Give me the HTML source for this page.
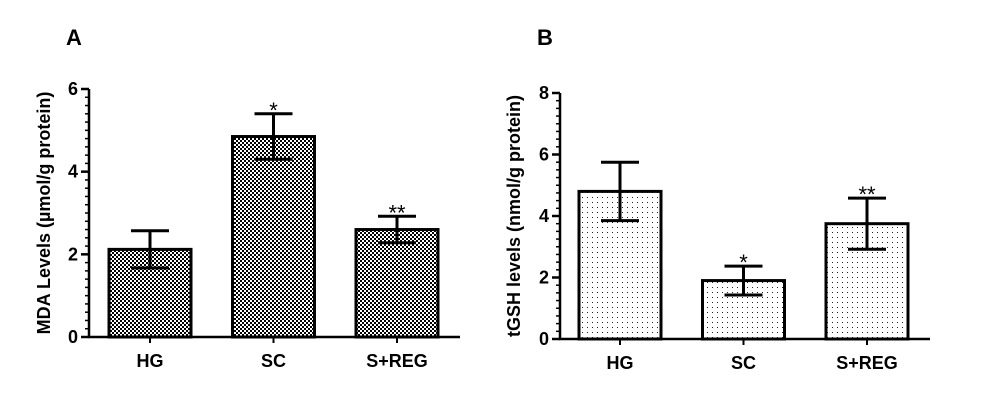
<!DOCTYPE html>
<html><head><meta charset="utf-8"><style>
body{margin:0;background:#fff}
svg{display:block;font-family:"Liberation Sans",Arial,sans-serif}
</style></head><body>
<svg id="c" width="1000" height="405" viewBox="0 0 1000 405">
<defs>
<pattern id="chk" width="4" height="4" patternUnits="userSpaceOnUse">
<rect width="4" height="4" fill="#fff"/><rect width="2" height="2" fill="#000"/><rect x="2" y="2" width="2" height="2" fill="#000"/>
</pattern>
<pattern id="dot" width="5" height="5" patternUnits="userSpaceOnUse">
<rect width="5" height="5" fill="#fff"/><rect x="2" y="2" width="1" height="1" fill="#222"/>
</pattern>
</defs>
<text x="66" y="45" font-size="22" font-weight="bold">A</text>
<text x="537" y="45" font-size="22" font-weight="bold">B</text>
</svg>
<script>
const categories=["HG","SC","S+REG"];
const mdaValues=[2.12,4.85,2.6];
const mdaErrors=[0.45,0.55,0.32];
const mdaStars=["","*","**"];
const mdaTicks=[0,2,4,6];
const gshValues=[4.8,1.9,3.75];
const gshErrors=[0.95,0.47,0.83];
const gshStars=["","*","**"];
const gshTicks=[0,2,4,6,8];
const NS="http://www.w3.org/2000/svg";
const svg=document.getElementById('c');
function mk(t,a,p){const e=document.createElementNS(NS,t);for(const k in a)e.setAttribute(k,a[k]);(p||svg).appendChild(e);return e;}
function panel(o){
  const g=mk('g',{});
  
  
  const y=v=>o.y0-(v-0)/o.max*(o.y0-o.yTop);
  const bx=i=>o.x0+o.firstBar+i*o.step;
  categories.forEach((c,i)=>{
    const x=bx(i),top=y(o.values[i]);
    const r=mk('rect',{x:x,y:top,width:o.bw,height:o.y0-top,fill:o.fill,stroke:'#000','stroke-width':3},g);
    
    
    const cx=x+o.bw/2,hi=y(o.values[i]+o.errors[i]),lo=y(o.values[i]-o.errors[i]);
    const eb=mk('path',{d:`M${cx},${hi}V${lo}M${cx-19},${hi}H${cx+19}M${cx-19},${lo}H${cx+19}`,stroke:'#000','stroke-width':3,fill:'none'},g);
    
    
    if(o.stars[i]){const s=mk('text',{x:cx,y:hi+4,'text-anchor':'middle','font-size':22},g);s.textContent=o.stars[i];
      
      }
    mk('line',{x1:cx,x2:cx,y1:o.y0,y2:o.y0+6,stroke:'#000','stroke-width':2},g);
    const t=mk('text',{x:cx,y:o.y0+30,'text-anchor':'middle','font-size':18,'font-weight':'bold'},g);t.textContent=c;
    
    
  });
  const ax=mk('path',{d:`M${o.x0},${o.yTop}V${o.y0}H${o.xEnd}`,stroke:'#000','stroke-width':2.5,fill:'none'},g);
  
  
  for(let v=0;v<=o.max+1e-9;v+=o.minor){mk('line',{x1:o.x0-4,x2:o.x0,y1:y(v),y2:y(v),stroke:'#000','stroke-width':1.5},g);}
  o.ticks.forEach(v=>{
    mk('line',{x1:o.x0-8,x2:o.x0,y1:y(v),y2:y(v),stroke:'#000','stroke-width':2.5},g);
    const t=mk('text',{x:o.x0-11,y:y(v)+6,'text-anchor':'end','font-size':18,'font-weight':'bold'},g);t.textContent=v;
    
    
  });
  const yt=mk('text',{x:0,y:0,transform:`translate(${o.titleX},${(o.y0+o.yTop)/2}) rotate(-90)`,'text-anchor':'middle','font-size':18,'font-weight':'bold'},g);
  yt.textContent=o.title;
  
  
}
panel({name:'panel-a-mda-chart',x0:89,y0:337,yTop:89,max:6,minor:0.2,xEnd:460,firstBar:20,step:123.5,bw:82,values:mdaValues,errors:mdaErrors,stars:mdaStars,ticks:mdaTicks,fill:'url(#chk)',title:'MDA Levels (µmol/g protein)',titleX:50});
panel({name:'panel-b-tgsh-chart',x0:560,y0:339,yTop:93,max:8,minor:0.25,xEnd:930,firstBar:19,step:123.5,bw:82,values:gshValues,errors:gshErrors,stars:gshStars,ticks:gshTicks,fill:'url(#dot)',title:'tGSH levels (nmol/g protein)',titleX:520});
</script>
</body></html>
